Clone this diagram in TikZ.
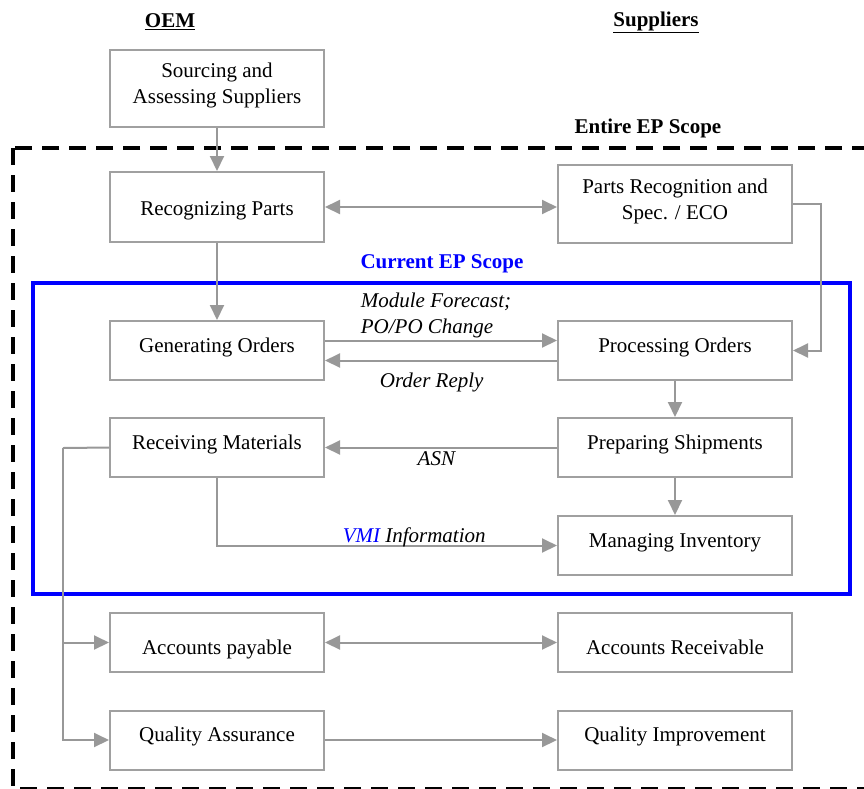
\documentclass[tikz,border=0pt]{standalone}
\usepackage{fontspec}
\setmainfont{Liberation Serif}
\usetikzlibrary{arrows.meta}
\definecolor{linegray}{RGB}{152,152,152}
\definecolor{boxgray}{RGB}{160,160,160}
\definecolor{scopeblue}{RGB}{0,0,255}

\begin{document}
\begin{tikzpicture}[x=1pt,y=-1pt]%
\tikzstyle{procbox} = [draw=boxgray, fill=white, line width=2pt, rectangle,
    minimum height=59pt, text height=15pt, text depth=12pt, align=center,
    inner sep=0pt, font=\fontsize{21}{26}\selectfont]
\tikzstyle{oembox} = [procbox, minimum width=214pt]
\tikzstyle{supbox} = [procbox, minimum width=234pt]
\tikzstyle{conn} = [draw=linegray, line width=2pt,
    >={Triangle[length=15pt,width=14pt]}, ->]
\tikzstyle{dconn} = [conn, <->]
\tikzstyle{flowlabel} = [font=\fontsize{21}{26}\selectfont\itshape, inner sep=2pt]
\tikzstyle{heading} = [font=\fontsize{21}{26}\selectfont\bfseries]

\useasboundingbox (0,0) rectangle (864,788);
\clip (0,0) rectangle (864,788);

\node[heading] (oem) at (170,22) {\underline{OEM}};
\node[heading] (sup) at (656,22) {\underline{Suppliers}};
\node[heading] (entire) at (648,128) {Entire EP Scope};
\node[heading, text=scopeblue] (current) at (442,264) {Current EP Scope};

\draw[black, line width=3.5pt, dash pattern=on 17pt off 10pt] (13,148) rectangle (880,789);
\draw[scopeblue, line width=3.5pt] (33,283) rectangle (850,594);

\node[oembox, minimum height=77pt, text height=, text depth=10pt] (src) at (217,88.5) {Sourcing and\\Assessing Suppliers};
\node[oembox, minimum height=70pt, text height=16pt, text depth=0pt] (recog) at (217,207) {Recognizing Parts};
\node[supbox, minimum height=78pt, text height=, text depth=10pt] (partsrec) at (675,204) {Parts Recognition and\\Spec. / ECO};
\node[oembox] (genord) at (217,350.5) {Generating Orders};
\node[supbox] (procord) at (675,350.5) {Processing Orders};
\node[oembox] (recv) at (217,447.5) {Receiving Materials};
\node[supbox] (prep) at (675,447.5) {Preparing Shipments};
\node[supbox] (inv) at (675,545.5) {Managing Inventory};
\node[oembox, text height=23pt, text depth=0pt] (ap) at (217,642.5) {Accounts payable};
\node[supbox, text height=23pt, text depth=0pt] (ar) at (675,642.5) {Accounts Receivable};
\node[oembox] (qa) at (217,740) {Quality Assurance};
\node[supbox] (qi) at (675,740) {Quality Improvement};

\draw[conn] (src) -- (recog);
\draw[dconn] (recog.east) -- (recog.east -| partsrec.west);
\draw[conn] (recog) -- (genord);
\draw[conn] (partsrec.east) -- ++(28,0) |- (procord.east);
\draw[conn] ([yshift=10pt]genord.east) -- node[flowlabel, above, align=left, xshift=-5pt] {Module Forecast;\\PO/PO Change} ([yshift=10pt]procord.west);
\draw[conn] ([yshift=-10pt]procord.west) -- node[flowlabel, below=9pt, pos=0.54] {Order Reply} ([yshift=-10pt]genord.east);
\draw[conn] (procord) -- (prep);
\draw[conn] (prep) -- node[flowlabel, below=1pt, pos=0.52] {ASN} (recv);
\draw[conn] (prep) -- (inv);
\draw[conn] (recv) |- node[flowlabel, above=-4pt, pos=0.79] {\textcolor{scopeblue}{VMI} Information} (inv);

\coordinate (trunk) at (63,448);
\draw[draw=linegray, line width=2pt] (recv.west) -- (trunk);
\draw[conn] (trunk) |- (qa.west);
\draw[conn] (trunk |- ap.west) -- (ap.west);
\draw[dconn] (ap) -- (ar);
\draw[conn] (qa) -- (qi);
\end{tikzpicture}
\end{document}
